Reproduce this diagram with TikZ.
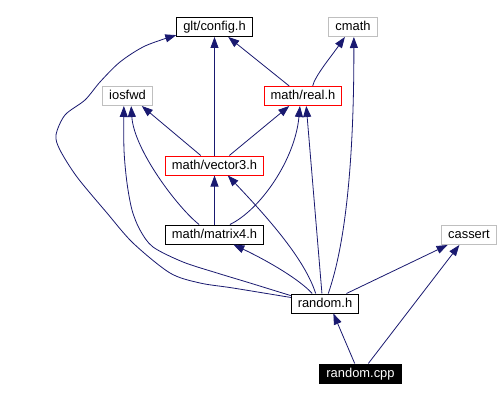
\documentclass[tikz,border=0pt]{standalone}
\usepackage{fontspec}
\setmainfont{Liberation Sans}
\usetikzlibrary{arrows.meta}

\definecolor{edgeblue}{HTML}{191970}
\definecolor{extgray}{HTML}{BFBFBF}

\begin{document}
\begin{tikzpicture}[
    x=1pt, y=-1pt,
    box/.style={draw, rectangle, line width=1pt, minimum height=19pt, inner xsep=6.5pt, inner ysep=3.5pt, text height=9.5pt, text depth=2.5pt, font=\fontsize{12.9}{14}\selectfont},
    extbox/.style={box, draw=extgray},
    redbox/.style={box, draw=red},
    rootbox/.style={box, fill=black, text=white},
    arrow/.style={-{Triangle[length=11pt, width=8pt]}, draw=edgeblue, fill=none, line width=0.8pt}
]

% Page
\useasboundingbox (0,0) rectangle (500,401);
\fill[white] (0,0) rectangle (500,401);

% Nodes, one row per include level
\node[box] (cfg) at (214.5,27) {glt/config.h};
\node[extbox] (cmath) at (353,27) {cmath};
\node[extbox] (iosfwd) at (127.5,96) {iosfwd};
\node[redbox] (real) at (303,96) {math/real.h};
\node[redbox] (vec) at (214.5,165.5) {math/vector3.h};
\node[box] (mat) at (214.5,234.5) {math/matrix4.h};
\node[extbox] (cassert) at (469,235) {cassert};
\node[box] (rh) at (325,303.5) {random.h};
\node[rootbox] (cpp) at (360.5,373.5) {random.cpp};

% Includes of random.cpp
\draw[arrow] (cpp.120) -- (rh.-50);
\draw[arrow] (cpp.52) -- (cassert.-134);

% Includes of random.h
\draw[arrow] (rh.25) -- (cassert.-155);
\draw[arrow] (rh.142) .. controls (300,280) and (270,262) .. (mat.-28);
\draw[arrow] (rh.133) .. controls (305,260) and (270,220) .. (vec.-37);
\draw[arrow] (rh.107) -- (real.-72);
\draw[arrow] (rh.72) .. controls (347,240) and (354,150) .. (cmath.-85);
\draw[arrow] plot[smooth] coordinates {(rh.167) (250,283) (217,273) (183,262) (153,247) (140,230) (132,210) (127,183) (124,150) (iosfwd.-110)};
\draw[arrow] plot[smooth] coordinates {(rh.170) (233,288) (200,283) (170,273) (133,243) (107,213) (77,177) (60,150) (56,135) (65,115) (85,100) (100,82) (120,62) (145,46) (cfg.192)};

% Includes of math/matrix4.h
\draw[arrow] (mat.north) -- (vec.south);
\draw[arrow] (mat.147) .. controls (178,208) and (134,150) .. (iosfwd.-70);
\draw[arrow] (mat.33) .. controls (260,210) and (295,160) .. (real.-107);

% Includes of math/vector3.h
\draw[arrow] (vec.north) -- (cfg.south);
\draw[arrow] (vec.144) -- (iosfwd.-35);
\draw[arrow] (vec.34) -- (real.-144);

% Includes of math/real.h
\draw[arrow] (real.144) -- (cfg.-36);
\draw[arrow] (real.46) .. controls (315,76) and (330,58) .. (cmath.-129);

\end{tikzpicture}
\end{document}
